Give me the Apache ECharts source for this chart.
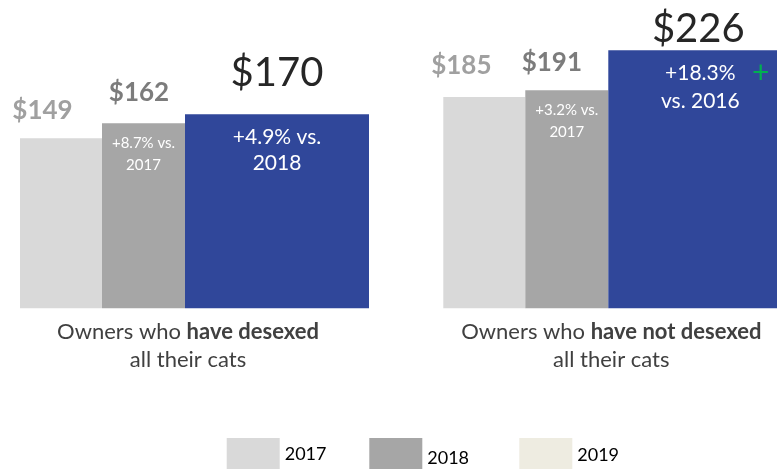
<!DOCTYPE html>
<html><head><meta charset="utf-8">
<script src="https://cdn.jsdelivr.net/npm/echarts@6/dist/echarts.min.js"></script>
<style>html,body{margin:0;padding:0;background:#fff}#c{width:777px;height:469px}</style>
</head><body><div id="c"></div>
<script>
// ---- data ----
var categories = ['have desexed', 'have not desexed'];
var catPrefix = ['Owners who ', 'Owners who '];
var catSecondLine = ['all their cats', 'all their cats'];
var years = ['2017', '2018', '2019'];
var values2017 = [149, 185];
var values2018 = [162, 191];
var values2019 = [170, 226];
var change2018 = ['+8.7% vs.\n2017', '+3.2% vs.\n2017'];
var change2019 = ['+4.9% vs.\n2018', '+18.3%\nvs. 2016'];
var greenMark = '+';

// ---- styling ----
var FONT = 'Lato';
var barColors = ['#d9d9d9', '#a6a6a6', '#30479a'];
var legendColors = ['#d9d9d9', '#a6a6a6', '#eeece1'];
var barWidths = [82, 83, 184];
// value-label tweaks per bar: [dx, dy] relative to bar top-centre
var valueLabelShift = [
  [[-18.5, -28], [-23, -31]],
  [[-4.5, -31], [-15, -28]],
  [[0, -41], [-2, -21]]
];
var valueLabelStyle = [
  {fontSize: 26, fontWeight: 'bold', color: '#a0a0a0'},
  {fontSize: 26, fontWeight: 'bold', color: '#7c7c7c'},
  {fontSize: 40, fontWeight: 'normal', color: '#262626'}
];
var changeLabelStyle = [
  null,
  {fontSize: 15, lineHeight: 22, dy: [31, 31]},
  {fontSize: 21, lineHeight: 26, dy: [36, 37], lineHeights: [26, 28]}
];

var valueSets = [values2017, values2018, values2019];
var changeSets = [null, change2018, change2019];

var series = [];
valueSets.forEach(function (vals, s) {
  series.push({
    name: years[s], type: 'bar', xAxisIndex: 0, barWidth: barWidths[s], barGap: '0%',
    itemStyle: {color: barColors[s]},
    z: 2 + s,
    data: vals.map(function (v, i) {
      return {
        value: v,
        label: {
          show: true, position: ['50%', 0], align: 'center', verticalAlign: 'middle',
          offset: valueLabelShift[s][i],
          formatter: '$' + v,
          fontFamily: FONT, fontSize: valueLabelStyle[s].fontSize,
          fontWeight: valueLabelStyle[s].fontWeight, color: valueLabelStyle[s].color
        }
      };
    })
  });
});
// overlay series carrying the change labels inside the bars
valueSets.forEach(function (vals, s) {
  var ch = changeSets[s], st = changeLabelStyle[s];
  series.push({
    name: 'change' + years[s], type: 'bar', xAxisIndex: 1, barWidth: barWidths[s], barGap: '0%',
    itemStyle: {color: 'rgba(0,0,0,0)'}, silent: true, z: 10,
    data: vals.map(function (v, i) {
      return {
        value: v,
        label: ch ? {
          show: true, position: ['50%', 0], align: 'center', verticalAlign: 'middle',
          offset: [0, st.dy[i]],
          formatter: ch[i], color: '#ffffff', fontFamily: FONT,
          fontSize: st.fontSize, lineHeight: st.lineHeights ? st.lineHeights[i] : st.lineHeight
        } : {show: false}
      };
    })
  });
});

var legends = years.map(function (y, i) {
  var pads = [[0, 0, 0, 0], [8, 0, 0, 0], [2, 0, 0, 0]];
  var lefts = [226.7, 369.3, 519.3];
  return {
    data: [{name: y, itemStyle: {color: legendColors[i]}}],
    left: lefts[i], top: 438, padding: 0, itemGap: 0,
    itemWidth: 53, itemHeight: 32, icon: 'rect', selectedMode: false,
    formatter: function (name) { return '{t|' + name + '}'; },
    textStyle: {
      fontFamily: FONT, fontSize: 18, color: '#000',
      rich: {t: {fontFamily: FONT, fontSize: 18, color: '#000', padding: pads[i]}}
    }
  };
});

var chart = echarts.init(document.getElementById('c'), null, {renderer: 'canvas'});
chart.setOption({
  animation: false,
  backgroundColor: '#fff',
  grid: {left: 194.5, width: 423.3, top: 22.8, height: 285.5, containLabel: false, outerBoundsMode: 'none'},
  xAxis: [
    {
      type: 'category', data: categories, gridIndex: 0, boundaryGap: false,
      axisLine: {show: false}, axisTick: {show: false},
      axisLabel: {
        margin: 10, padding: [0, 13, 0, 0], align: 'center',
        formatter: function (val, idx) {
          return '{a|' + catPrefix[idx] + '}{b|' + val + '}\n{a|' + catSecondLine[idx] + '}';
        },
        rich: {
          a: {fontFamily: FONT, fontSize: 22, color: '#404040', lineHeight: 28},
          b: {fontFamily: FONT, fontSize: 22, color: '#404040', fontWeight: 'bold', lineHeight: 28}
        }
      }
    },
    {type: 'category', data: categories, gridIndex: 0, boundaryGap: false, show: false}
  ],
  yAxis: {type: 'value', min: 0, max: 250, show: false, splitLine: {show: false}},
  legend: legends,
  series: series,
  graphic: [{
    type: 'text', left: 752, top: 58, z: 100,
    style: {text: greenMark, fill: '#00b050', fontFamily: FONT, fontSize: 30}
  }]
});
</script></body></html>
